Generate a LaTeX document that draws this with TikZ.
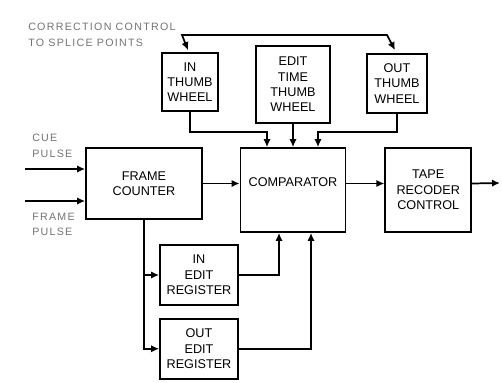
\documentclass[tikz,border=0pt]{standalone}
\usepackage{fontspec}
\setmainfont{Liberation Sans}
\newfontfamily\lblfont[LetterSpace=12]{Liberation Sans}
\usetikzlibrary{arrows.meta,positioning,calc}
\definecolor{labelgray}{RGB}{115,115,115}

\begin{document}
\begin{tikzpicture}[
    x=0.75pt, y=-0.75pt,
    node distance=9pt and 28.5pt,
    blk/.style={rectangle, draw, line width=1.3pt, fill=white, align=center,
        inner sep=0pt, font=\fontsize{9.5}{11.5}\selectfont},
    lbl/.style={anchor=north west, align=left, inner sep=0pt, text=labelgray,
        font=\lblfont\fontsize{8}{11.5}\selectfont},
    arr/.style={-{Latex[length=6pt,width=5.5pt]}, line width=1.3pt},
    arrs/.style={{Latex[length=6pt,width=5.5pt]}-{Latex[length=6pt,width=5.5pt]}, line width=1.3pt}
]
\useasboundingbox (0,0) rectangle (502,382);

% thumbwheels
\node[blk, minimum width=42pt, minimum height=43.5pt] (inthumb) at (190,82) {IN\\THUMB\\WHEEL};
\node[blk, minimum width=55.5pt, minimum height=57.75pt] (edittime) at (293,84.5) {EDIT\\TIME\\THUMB\\WHEEL};
\node[blk, minimum width=45pt, minimum height=44.25pt] (outthumb) at (397,83.5) {OUT\\THUMB\\WHEEL};

% main chain
\node[blk, minimum width=87pt, minimum height=53.25pt] (fc) at (144,183.5) {FRAME\\COUNTER};
\node[blk, minimum width=78.75pt, minimum height=63pt] (comp) at (293,190) {};
\node[blk, draw=none, fill=none] (comptxt) at (293,182) {COMPARATOR};
\node[blk, minimum width=64.5pt, minimum height=63pt, right=of comp] (tape) {TAPE\\RECODER\\CONTROL};

% registers
\node[blk, minimum width=58.5pt, minimum height=45pt] (inedit) at (199,275) {IN\\EDIT\\REGISTER};
\node[blk, minimum width=58.5pt, minimum height=45pt, below=of inedit] (outedit) {OUT\\EDIT\\REGISTER};

% labels
\node[lbl] (corrlbl) at (28,23) {CORRECTION CONTROL\\TO SPLICE POINTS};
\node[lbl] (cuelbl) at (32,134) {CUE\\PULSE};
\node[lbl] (framelbl) at (32,213) {FRAME\\PULSE};

\coordinate (corr-l) at (182,35);
\coordinate (corr-r) at (387,35);
\coordinate (cue-in) at (25,169);
\coordinate (frame-in) at (25,201);
\coordinate (tape-out) at (500,183);

\draw[arrs] ($(inthumb.north)+(-2,-2)$) -- (corr-l) -- (corr-r) -- ($(outthumb.north)+(-2,-3)$);

\draw[arr] (inthumb.south) |- ($(comp.north)+(-26,-15)$) -- ($(comp.north)+(-26,0)$);
\draw[arr] (edittime.south) -- (comp.north);
\draw[arr] (outthumb.south) |- ($(comp.north)+(25,-15)$) -- ($(comp.north)+(25,0)$);

\draw[arr] (cue-in) -- (cue-in -| fc.west);
\draw[arr] (frame-in) -- (frame-in -| fc.west);
\draw[arr] (fc.east) -- (fc.east -| comp.west);
\draw[arr] (comp.east |- fc.east) -- (tape.west |- fc.east);
\draw[arr] (tape.east |- fc.east) -- (tape-out);

\draw[arr] (fc.south) |- (inedit.west);
\draw[arr] (fc.south) |- (outedit.west);
\draw[arr] (inedit.east) -| ($(comp.south)+(-14,0)$);
\draw[arr] (outedit.east) -| ($(comp.south)+(18,0)$);
\end{tikzpicture}
\end{document}
